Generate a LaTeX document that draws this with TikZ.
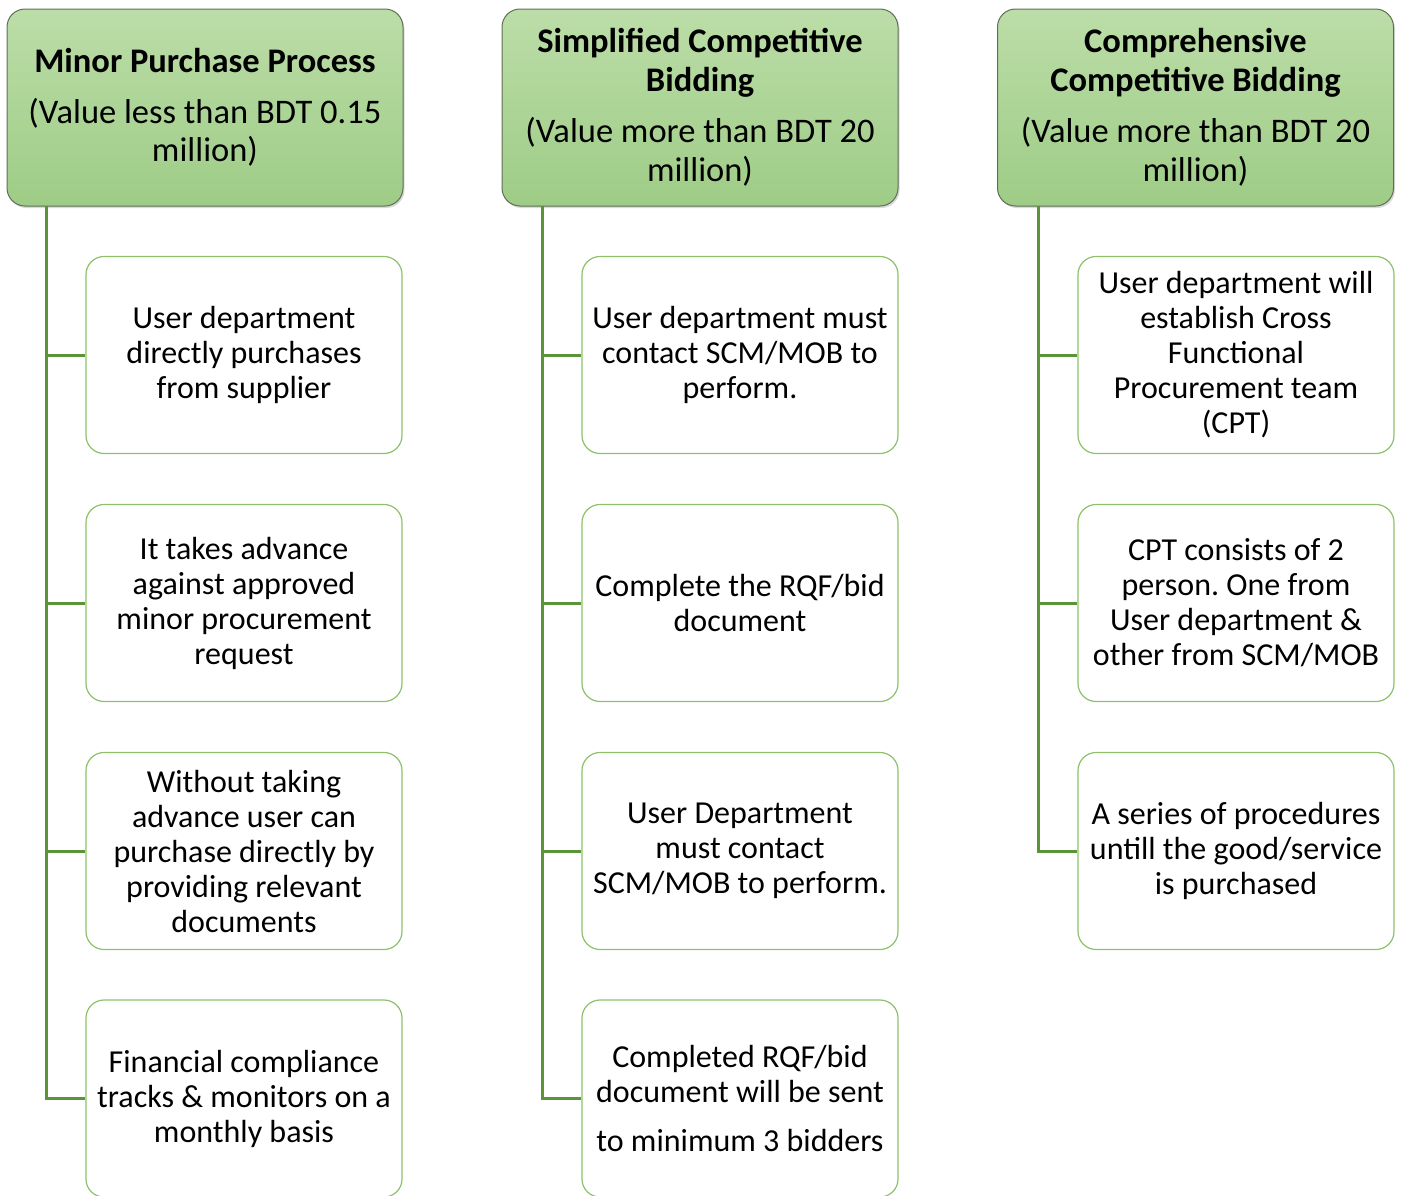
\documentclass[tikz,border=0pt]{standalone}
\usepackage{fontspec}
\setmainfont{Carlito}
\usetikzlibrary{shadows}
\frenchspacing
\definecolor{hdtop}{HTML}{BCDDA8}
\definecolor{hdbot}{HTML}{9ECC86}
\definecolor{hdborder}{HTML}{5F6F57}
\definecolor{itemborder}{HTML}{8DC26A}
\definecolor{linkgreen}{HTML}{5A9438}
\tikzset{
  header/.style={draw=hdborder, line width=1pt, rounded corners=18pt,
    top color=hdtop, bottom color=hdbot,
    minimum width=396pt, minimum height=197pt, align=center, inner sep=0pt,
    drop shadow={opacity=0.3, shadow xshift=1.5pt, shadow yshift=-2pt},
    font=\fontsize{34.5}{38.5}\selectfont},
  item/.style={draw=itemborder, line width=1.2pt, rounded corners=18pt, fill=white,
    minimum width=316pt, minimum height=197pt, align=center, inner sep=0pt,
    font=\fontsize{32}{35}\selectfont},
  link/.style={draw=linkgreen, line width=3pt}
}
\begin{document}
\begin{tikzpicture}[x=1pt,y=-1pt]
\useasboundingbox (0,0) rectangle (1402,1195);

% column headers
\node[header] (h1) at (205,107.5) {\textbf{Minor Purchase Process}\\[12.5pt](Value less than BDT 0.15\\million)};
\node[header] (h2) at (700,107.5) {\textbf{Simplified Competitive}\\\textbf{Bidding}\\[13pt](Value more than BDT 20\\million)};
\node[header] (h3) at (1195.5,107.5) {\textbf{Comprehensive}\\\textbf{Competitive Bidding}\\[13pt](Value more than BDT 20\\million)};

% trunk start points
\coordinate (t1) at (46,206);
\coordinate (t2) at (542,206);
\coordinate (t3) at (1038,206);

% column 1
\node[item] (a1) at (244,355) {User department\\directly purchases\\from supplier};
\node[item] (a2) at (244,603) {It takes advance\\against approved\\minor procurement\\request};
\node[item] (a3) at (244,851) {Without taking\\advance user can\\purchase directly by\\providing relevant\\documents};
\node[item] (a4) at (244,1098.5) {Financial compliance\\tracks \& monitors on a\\monthly basis};

% column 2
\node[item] (b1) at (740,355) {User department must\\contact SCM/MOB to\\perform.};
\node[item] (b2) at (740,603) {Complete the RQF/bid\\document};
\node[item] (b3) at (740,851) {User Department\\must contact\\SCM/MOB to perform.};
\node[item] (b4) at (740,1098.5) {Completed RQF/bid\\document will be sent\\[14pt]to minimum 3 bidders};

% column 3
\node[item] (c1) at (1236,355) {User department will\\establish Cross\\Functional\\Procurement team\\(CPT)};
\node[item] (c2) at (1236,603) {CPT consists of 2\\person. One from\\User department \&\\other from SCM/MOB};
\node[item] (c3) at (1236,851) {A series of procedures\\untill the good/service\\is purchased};

% connectors
\draw[link] (t1) |- (a4.west);
\foreach \n in {a1,a2,a3} \draw[link] (t1 |- \n.west) -- (\n.west);
\draw[link] (t2) |- (b4.west);
\foreach \n in {b1,b2,b3} \draw[link] (t2 |- \n.west) -- (\n.west);
\draw[link] (t3) |- (c3.west);
\foreach \n in {c1,c2} \draw[link] (t3 |- \n.west) -- (\n.west);
\end{tikzpicture}
\end{document}
